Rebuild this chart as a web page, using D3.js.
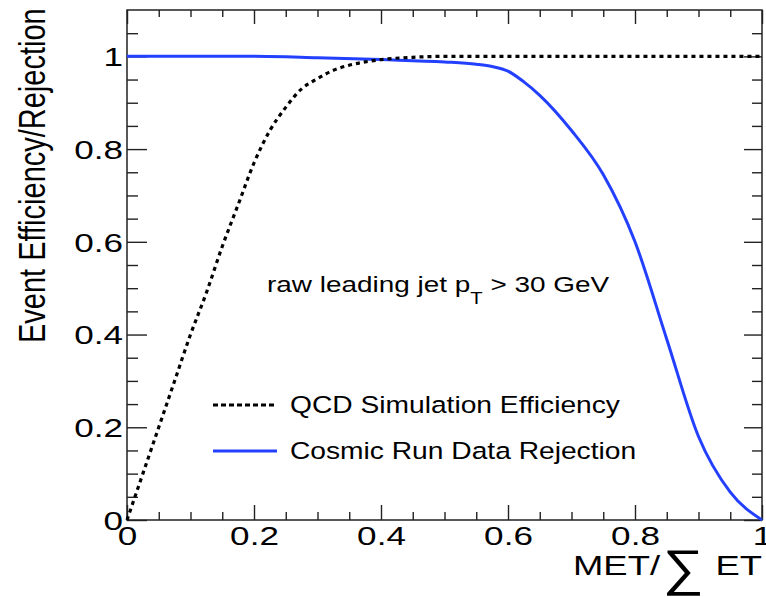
<!DOCTYPE html>
<html lang="en">
<head>
<meta charset="utf-8">
<title>Event efficiency / rejection vs MET/sum ET</title>
<script src="https://cdn.jsdelivr.net/npm/d3@7"></script>
<style>
  body { margin: 0; background: #fff; }
  svg text { font-family: "Liberation Sans", Arial, sans-serif; fill: #000; }
</style>
</head>
<body>
<script>
// data
var qcdX = [0, 0.025, 0.05, 0.075, 0.1, 0.125, 0.15, 0.175, 0.2, 0.225, 0.25, 0.275, 0.3, 0.325, 0.35, 0.375, 0.4, 0.45, 0.5, 0.6, 0.7, 0.8, 0.9, 1.0];
var qcdY = [0, 0.10, 0.20, 0.30, 0.40, 0.49, 0.59, 0.68, 0.77, 0.84, 0.89, 0.93, 0.952, 0.970, 0.981, 0.988, 0.993, 0.998, 1.0, 1.0, 1.0, 1.0, 1.0, 1.0];

var cosX = [0, 0.1, 0.2, 0.3, 0.4, 0.5, 0.55, 0.575, 0.6, 0.625, 0.65, 0.7, 0.75, 0.8, 0.85, 0.9, 0.95, 1.0];
var cosY = [1.0, 1.0, 1.0, 0.997, 0.993, 0.988, 0.983, 0.978, 0.968, 0.945, 0.916, 0.84, 0.745, 0.6, 0.39, 0.18, 0.06, 0.0];

var xMajor = [0, 0.2, 0.4, 0.6, 0.8, 1];
var yMajor = [0, 0.2, 0.4, 0.6, 0.8, 1];
var xLabels = ["0", "0.2", "0.4", "0.6", "0.8", "1"];
var yLabels = ["0", "0.2", "0.4", "0.6", "0.8", "1"];

var legendNames = ["QCD Simulation Efficiency", "Cosmic Run Data Rejection"];

var w = 766, h = 597;
var padL = 127, padR = 762, padT = 10, padB = 520;
var sx = 1.35; // the original picture is stretched sideways

var x = d3.scaleLinear().domain([0, 1]).range([padL, padR]);
var y = d3.scaleLinear().domain([0, 1.1]).range([padB, padT]);

var svg = d3.select("body").append("svg")
  .attr("width", w).attr("height", h);

// minor tick positions every 0.05 that are not majors
function minors(maxV) {
  return d3.range(0, maxV + 1e-9, 0.05).filter(function(v) {
    return Math.abs(v / 0.2 - Math.round(v / 0.2)) > 1e-6;
  });
}
var xMinor = minors(1.0);
var yMinor = minors(1.06);

function styleAxis(g) {
  g.select(".domain").remove();
  g.selectAll(".tick line").attr("stroke", "#222").attr("stroke-width", 1.4);
}

// bottom axis
svg.append("g").attr("transform", "translate(0," + padB + ")")
  .call(d3.axisBottom(x).tickValues(xMinor).tickFormat("").tickSize(-8)).call(styleAxis);
svg.append("g").attr("transform", "translate(0," + padB + ")")
  .call(d3.axisBottom(x).tickValues(xMajor).tickSize(-15).tickPadding(7)
    .tickFormat(function(d, i) { return xLabels[i]; }))
  .call(styleAxis)
  .call(function(g) {
    g.selectAll("text").attr("font-size", 26).attr("transform", "scale(" + sx + ",1)");
  });

// top axis
svg.append("g").attr("transform", "translate(0," + padT + ")")
  .call(d3.axisTop(x).tickValues(xMinor).tickFormat("").tickSize(-7)).call(styleAxis);
svg.append("g").attr("transform", "translate(0," + padT + ")")
  .call(d3.axisTop(x).tickValues(xMajor).tickFormat("").tickSize(-14)).call(styleAxis);

// left axis
svg.append("g").attr("transform", "translate(" + padL + ",0)")
  .call(d3.axisLeft(y).tickValues(yMinor).tickFormat("").tickSize(-11)).call(styleAxis);
svg.append("g").attr("transform", "translate(" + padL + ",0)")
  .call(d3.axisLeft(y).tickValues(yMajor).tickSize(-20).tickPadding(3)
    .tickFormat(function(d, i) { return yLabels[i]; }))
  .call(styleAxis)
  .call(function(g) {
    g.selectAll("text").attr("font-size", 26).attr("dy", "0.36em")
      .attr("transform", "scale(" + sx + ",1)");
  });

// right axis
svg.append("g").attr("transform", "translate(" + padR + ",0)")
  .call(d3.axisRight(y).tickValues(yMinor).tickFormat("").tickSize(-10)).call(styleAxis);
svg.append("g").attr("transform", "translate(" + padR + ",0)")
  .call(d3.axisRight(y).tickValues(yMajor).tickFormat("").tickSize(-18)).call(styleAxis);

// frame
svg.append("rect")
  .attr("x", padL).attr("y", padT)
  .attr("width", padR - padL).attr("height", padB - padT)
  .attr("fill", "none").attr("stroke", "#222").attr("stroke-width", 1.5);

// curves
var line = d3.line()
  .x(function(d) { return x(d[0]); })
  .y(function(d) { return y(d[1]); })
  .curve(d3.curveMonotoneX);

svg.append("path")
  .datum(d3.zip(cosX, cosY))
  .attr("d", line)
  .attr("fill", "none")
  .attr("stroke", "#2440ff")
  .attr("stroke-width", 3);

svg.append("path")
  .datum(d3.zip(qcdX, qcdY))
  .attr("d", line)
  .attr("fill", "none")
  .attr("stroke", "#000")
  .attr("stroke-width", 3.2)
  .attr("stroke-dasharray", "4,4");

// annotation
var note = svg.append("text")
  .attr("transform", "translate(267,292) scale(1.27,1)")
  .attr("font-size", 22);
note.append("tspan").text("raw leading jet p");
note.append("tspan").attr("font-size", 16).attr("dy", 12).text("T");
note.append("tspan").attr("dy", -12).text(" > 30 GeV");

// legend
var legY = [405, 451];
var leg = svg.selectAll("g.leg").data(legendNames).enter().append("g").attr("class", "leg");
leg.append("line")
  .attr("x1", 213).attr("x2", 277)
  .attr("y1", function(d, i) { return legY[i]; })
  .attr("y2", function(d, i) { return legY[i]; })
  .attr("stroke", function(d, i) { return i === 0 ? "#000" : "#2440ff"; })
  .attr("stroke-width", 3)
  .attr("stroke-dasharray", function(d, i) { return i === 0 ? "5,3" : null; });
leg.append("text")
  .attr("transform", function(d, i) { return "translate(290," + (legY[i] + 8) + ") scale(1.2,1)"; })
  .attr("font-size", 23.5)
  .text(function(d) { return d; });

// y title
svg.append("text")
  .attr("transform", "translate(45,343) rotate(-90) scale(1,1.3)")
  .attr("font-size", 29)
  .text("Event Efficiency/Rejection");

// x title
svg.append("text")
  .attr("transform", "translate(660,575) scale(1.3,1)")
  .attr("text-anchor", "end").attr("font-size", 28)
  .text("MET/");
svg.append("text")
  .attr("transform", "translate(683,585) scale(1.15,1)")
  .attr("text-anchor", "middle").attr("font-size", 50)
  .text("\u2211");
svg.append("text")
  .attr("transform", "translate(762,575) scale(1.3,1)")
  .attr("text-anchor", "end").attr("font-size", 28)
  .text("ET");
</script>
</body>
</html>
